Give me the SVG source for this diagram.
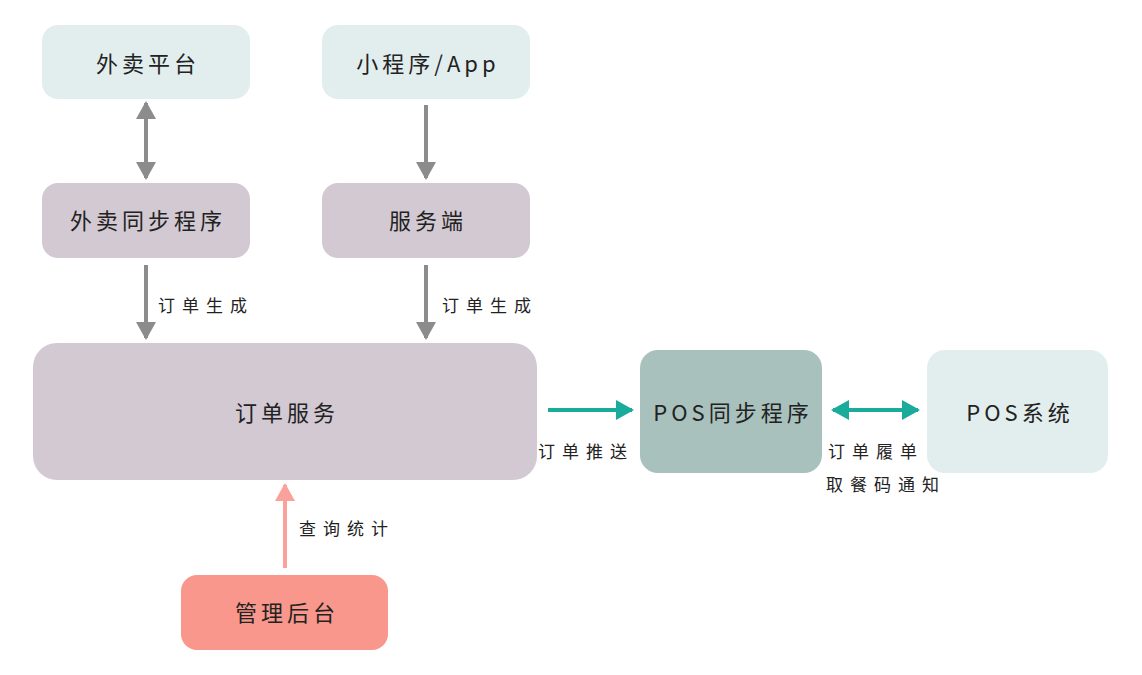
<svg xmlns="http://www.w3.org/2000/svg" width="1142" height="675" viewBox="0 0 1142 675">
<style>
.node{font-family:"Noto Sans CJK SC","Noto Sans",sans-serif;font-size:22px;fill:#222;text-anchor:middle;dominant-baseline:central;letter-spacing:4px}
.lbl{font-family:"Noto Sans CJK SC","Noto Sans",sans-serif;font-size:17px;fill:#222;dominant-baseline:central;letter-spacing:7px}
.light{fill:#e2eeee}
.mauve{fill:#d3c9d3}
.sage{fill:#a8c1bd}
.pink{fill:#f9978c}
.gray{stroke:#8c8c8c;stroke-width:4;fill:none}
.teal{stroke:#1aab9b;stroke-width:4;fill:none}
.rose{stroke:#f9a19a;stroke-width:4;fill:none}
</style>
<defs>
<marker id="ag" viewBox="0 0 18 20" refX="16" refY="10" markerWidth="18" markerHeight="20" markerUnits="userSpaceOnUse" orient="auto-start-reverse"><path d="M0,0 L18,10 L0,20 Z" fill="#8c8c8c"/></marker>
<marker id="at" viewBox="0 0 18 20" refX="16" refY="10" markerWidth="18" markerHeight="20" markerUnits="userSpaceOnUse" orient="auto-start-reverse"><path d="M0,0 L18,10 L0,20 Z" fill="#1aab9b"/></marker>
<marker id="ap" viewBox="0 0 18 20" refX="16" refY="10" markerWidth="18" markerHeight="20" markerUnits="userSpaceOnUse" orient="auto-start-reverse"><path d="M0,0 L18,10 L0,20 Z" fill="#f9a19a"/></marker>
</defs>
<rect width="1142" height="675" fill="#ffffff"/>
<g id="waimai-platform"><rect class="light" x="42" y="25" width="208" height="74" rx="16"/><text class="node" x="148" y="62">外卖平台</text></g>
<g id="miniapp"><rect class="light" x="322" y="25" width="208" height="74" rx="16"/><text class="node" x="428" y="62">小程序/App</text></g>
<g id="waimai-sync"><rect class="mauve" x="42" y="183" width="208" height="75" rx="16"/><text class="node" x="148" y="219">外卖同步程序</text></g>
<g id="server"><rect class="mauve" x="322" y="183" width="208" height="75" rx="16"/><text class="node" x="428" y="219">服务端</text></g>
<g id="order-service"><rect class="mauve" x="33" y="343" width="504" height="137" rx="24"/><text class="node" x="287" y="411">订单服务</text></g>
<g id="pos-sync"><rect class="sage" x="640" y="350" width="182" height="123" rx="18"/><text class="node" x="733" y="411">POS同步程序</text></g>
<g id="pos-system"><rect class="light" x="927" y="350" width="181" height="123" rx="18"/><text class="node" x="1020" y="411">POS系统</text></g>
<g id="admin"><rect class="pink" x="181" y="575" width="207" height="75" rx="16"/><text class="node" x="287" y="611">管理后台</text></g>
<g id="connectors">
<line class="gray" x1="146" y1="103" x2="146" y2="178" marker-start="url(#ag)" marker-end="url(#ag)"/>
<line class="gray" x1="426" y1="105" x2="426" y2="178" marker-end="url(#ag)"/>
<line class="gray" x1="146" y1="265" x2="146" y2="338" marker-end="url(#ag)"/>
<text class="lbl" x="158" y="304">订单生成</text>
<line class="gray" x1="426" y1="265" x2="426" y2="338" marker-end="url(#ag)"/>
<text class="lbl" x="442" y="304">订单生成</text>
<line class="teal" x1="548" y1="410" x2="632" y2="410" marker-end="url(#at)"/>
<text class="lbl" x="538" y="450">订单推送</text>
<line class="teal" x1="833" y1="410" x2="918" y2="410" marker-start="url(#at)" marker-end="url(#at)"/>
<text class="lbl" x="828" y="450">订单履单</text>
<text class="lbl" x="826" y="483">取餐码通知</text>
<line class="rose" x1="285" y1="568" x2="285" y2="485" marker-end="url(#ap)"/>
<text class="lbl" x="299" y="527">查询统计</text>
</g>
</svg>
